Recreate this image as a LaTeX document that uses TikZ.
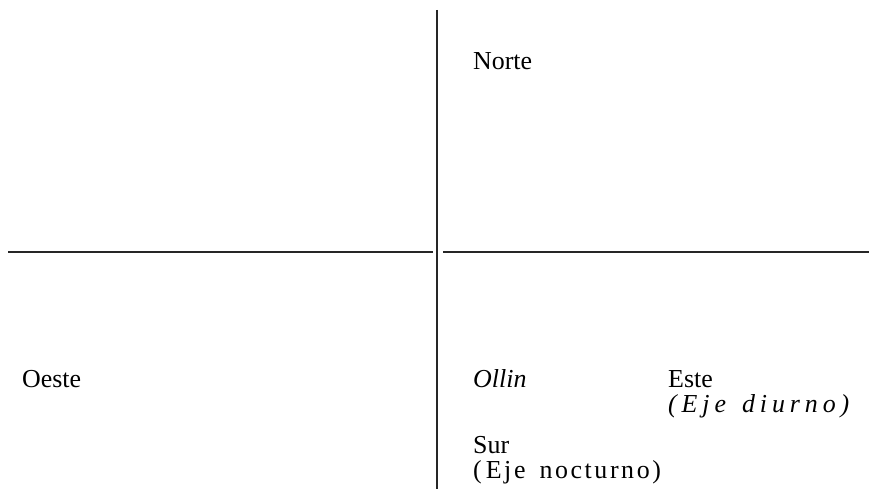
\documentclass[tikz,border=0pt]{standalone}
\usepackage{fontspec}
\setmainfont{Liberation Serif}
\newfontfamily\widediurno[LetterSpace=19]{Liberation Serif}
\newfontfamily\widenoct[LetterSpace=10]{Liberation Serif}
\usetikzlibrary{positioning}

\begin{document}
\begin{tikzpicture}[
    x=1bp, y=-1bp,
    lbl/.style={anchor=base west, inner sep=0pt,
                font=\fontsize{26}{30}\selectfont},
    axis/.style={line width=1.3bp, black!85}
  ]
  \useasboundingbox (0,0) rectangle (869,489);

  % ----- axes -----
  \coordinate (vtop) at (437,10);
  \coordinate (vbot) at (437,489);
  \coordinate (hwest) at (8,252);
  \coordinate (hwgap) at (433,252);
  \coordinate (hegap) at (443,252);
  \coordinate (heast) at (869,252);
  \draw[axis] (vtop) -- (vbot);
  \draw[axis] (hwest) -- (hwgap);
  \draw[axis] (hegap) -- (heast);

  % ----- labels -----
  \node[lbl] (norte) at (473,70)  {Norte};
  \node[lbl] (oeste) at (22,387)  {Oeste};
  \node[lbl] (ollin) at (473,387) {\itshape Ollin};
  \node[lbl] (este)  at (668,387) {Este};
  \node[lbl, below=7pt of este.south west, anchor=north west] (diurno)
        {\widediurno\itshape (Eje\hspace{16bp}diurno)};
  \node[lbl] (sur)   at (473,453) {Sur};
  \node[lbl, below=7pt of sur.south west, anchor=north west] (nocturno)
        {\widenoct (\hspace{4bp}Eje\hspace{14bp}nocturno)};
\end{tikzpicture}
\end{document}
